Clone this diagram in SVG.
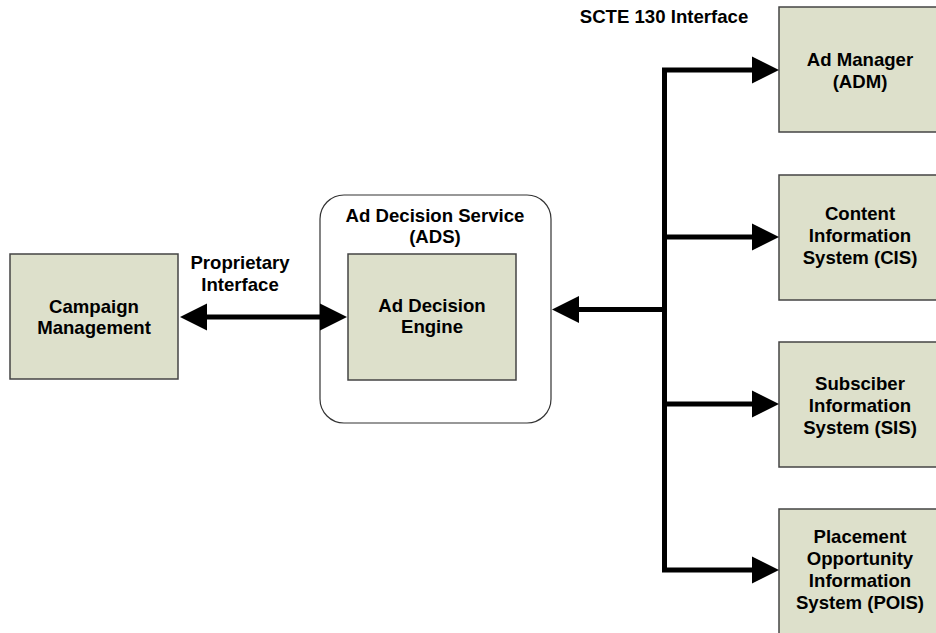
<svg xmlns="http://www.w3.org/2000/svg" width="936" height="633" viewBox="0 0 936 633">
  <style>
    .box { fill: #dde0cb; stroke: #444444; stroke-width: 1.5; }
    .frame { fill: #ffffff; stroke: #333333; stroke-width: 1.2; }
    .lbl { font-family: "Liberation Sans", Arial, sans-serif; font-size: 18.6px; font-weight: bold; fill: #000000; text-anchor: middle; }
    .wire { fill: none; stroke: #000000; stroke-width: 5; stroke-linejoin: miter; }
  </style>
  <defs>
    <marker id="head" markerUnits="userSpaceOnUse" markerWidth="28" markerHeight="28" viewBox="0 -14 28 28" refX="0" refY="0" orient="auto-start-reverse">
      <path d="M0,-13.5 L27,0 L0,13.5 Z" fill="#000000"/>
    </marker>
  </defs>

  <rect width="936" height="633" fill="#ffffff"/>

  <!-- interface captions -->
  <text class="lbl" x="240" y="269">Proprietary</text>
  <text class="lbl" x="240" y="291">Interface</text>
  <text class="lbl" x="664" y="23">SCTE 130 Interface</text>

  <g id="campaign-management">
    <rect class="box" x="10" y="254" width="168" height="125"/>
    <text class="lbl" x="94" y="313">Campaign</text>
    <text class="lbl" x="94" y="334">Management</text>
  </g>

  <g id="ad-decision-service">
    <rect class="frame" x="320" y="195" width="231" height="228" rx="24" ry="24"/>
    <text class="lbl" x="435" y="222">Ad Decision Service</text>
    <text class="lbl" x="435" y="243">(ADS)</text>
  </g>

  <g id="ad-decision-engine">
    <rect class="box" x="348" y="254" width="168" height="126"/>
    <text class="lbl" x="432" y="312">Ad Decision</text>
    <text class="lbl" x="432" y="333">Engine</text>
  </g>

  <g id="ad-manager">
    <rect class="box" x="779" y="7" width="168" height="125"/>
    <text class="lbl" x="860" y="66">Ad Manager</text>
    <text class="lbl" x="860" y="88">(ADM)</text>
  </g>

  <g id="content-information-system">
    <rect class="box" x="779" y="175" width="168" height="125"/>
    <text class="lbl" x="860" y="220">Content</text>
    <text class="lbl" x="860" y="242">Information</text>
    <text class="lbl" x="860" y="264">System (CIS)</text>
  </g>

  <g id="subscriber-information-system">
    <rect class="box" x="779" y="342" width="168" height="125"/>
    <text class="lbl" x="860" y="390">Subsciber</text>
    <text class="lbl" x="860" y="412">Information</text>
    <text class="lbl" x="860" y="434">System (SIS)</text>
  </g>

  <g id="placement-opportunity-information-system">
    <rect class="box" x="779" y="509" width="168" height="130"/>
    <text class="lbl" x="860" y="543">Placement</text>
    <text class="lbl" x="860" y="565">Opportunity</text>
    <text class="lbl" x="860" y="587">Information</text>
    <text class="lbl" x="860" y="609">System (POIS)</text>
  </g>

  <g id="connectors">
    <!-- proprietary link, both directions -->
    <path class="wire" d="M207,317 H320" marker-start="url(#head)" marker-end="url(#head)"/>
    <!-- SCTE 130 bus: outer branches and trunk -->
    <path class="wire" d="M752,70 H664.5 V570 H752" marker-start="url(#head)" marker-end="url(#head)"/>
    <path class="wire" d="M664.5,237 H752" marker-end="url(#head)"/>
    <path class="wire" d="M664.5,404 H752" marker-end="url(#head)"/>
    <!-- bus into the ADS -->
    <path class="wire" d="M667,309.5 H579" marker-end="url(#head)"/>
  </g>
</svg>
